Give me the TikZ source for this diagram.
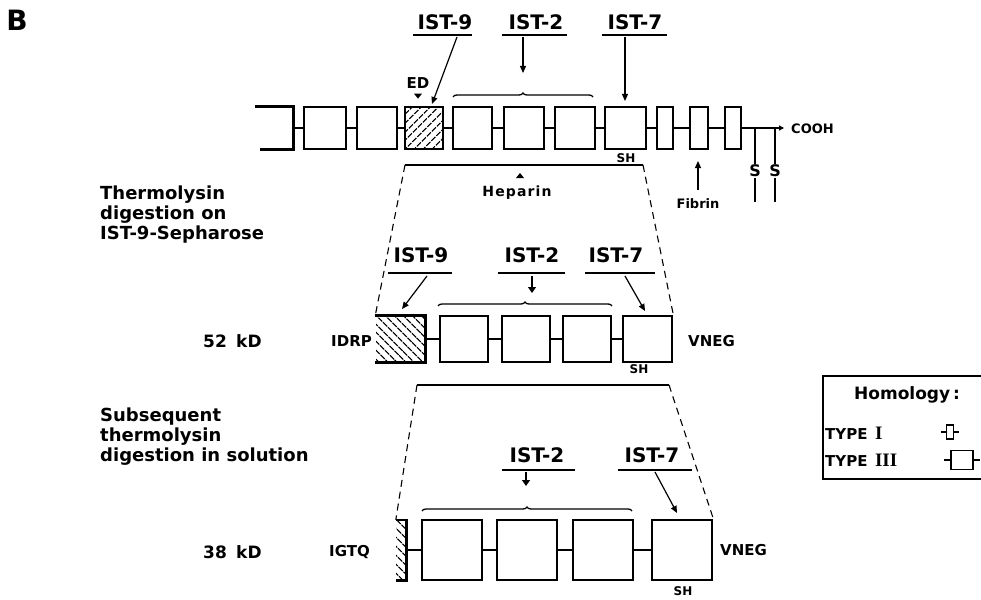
\documentclass[tikz,border=0pt]{standalone}
\usepackage{fontspec}
\setmainfont{DejaVu Sans}
\newfontfamily\romnum{Liberation Serif}
\usetikzlibrary{arrows.meta,patterns.meta,decorations.pathreplacing,calc}
\begin{document}
\begin{tikzpicture}[x=1pt,y=-1pt,
  box/.style={draw, line width=2.6pt, inner sep=0pt},
  nobox/.style={inner sep=0pt},
  link/.style={line width=2.6pt},
  thinline/.style={line width=1.2pt},
  dashline/.style={line width=1.1pt, dash pattern=on 7pt off 5pt},
  arr/.style={line width=1.2pt, -{Triangle[length=7pt,width=6pt]}},
  shortarr/.style={line width=1.2pt, -{Triangle[length=6pt,width=8pt]}},
  brc/.style={line width=1.3pt, decorate, decoration={brace, amplitude=4pt, aspect=0.5}},
  hatchA/.style={pattern={Lines[angle=45,distance=6.5pt,line width=1.3pt]}},
  hatchB/.style={pattern={Lines[angle=-45,distance=6.5pt,line width=1.4pt]}},
  big/.style={font=\fontsize{20}{22}\selectfont\bfseries, inner sep=0pt},
  mid/.style={font=\fontsize{17}{20}\selectfont\bfseries, inner sep=0pt},
  seq/.style={font=\fontsize{15}{17}\selectfont\bfseries, inner sep=0pt},
  sml/.style={font=\fontsize{13}{15}\selectfont\bfseries, inner sep=0pt},
  tiny/.style={font=\fontsize{12}{14}\selectfont\bfseries, inner sep=0pt},
]
\useasboundingbox (0,0) rectangle (981,599);
\fill[white] (0,0) rectangle (981,599);

\node[font=\fontsize{28}{30}\selectfont\bfseries, inner sep=0pt] (B) at (17,20) {B};

% ---------------- top row ----------------
\node[nobox, minimum width=38pt, minimum height=42pt] (t1) at (274,128) {};
\draw[link] (t1.north west) -- (t1.north east) -- (t1.south east) -- ([xshift=5pt]t1.south west);
\node[box, minimum width=42pt, minimum height=42pt] (t2) at (325,128) {};
\node[box, minimum width=40pt, minimum height=42pt] (t3) at (377,128) {};
\node[box, hatchA, minimum width=38pt, minimum height=42pt] (t4) at (424,128) {};
\node[box, minimum width=39pt, minimum height=42pt] (t5) at (472.5,128) {};
\node[box, minimum width=40pt, minimum height=42pt] (t6) at (524,128) {};
\node[box, minimum width=40pt, minimum height=42pt] (t7) at (575,128) {};
\node[box, minimum width=41pt, minimum height=42pt] (t8) at (625.5,128) {};
\node[box, minimum width=16pt, minimum height=42pt] (t9) at (665,128) {};
\node[box, minimum width=18pt, minimum height=42pt] (t10) at (699,128) {};
\node[box, minimum width=16pt, minimum height=42pt] (t11) at (733,128) {};
\foreach \a/\b in {t1/t2,t2/t3,t3/t4,t4/t5,t5/t6,t6/t7,t7/t8,t8/t9,t9/t10,t10/t11}
  \draw[link] (\a.east) -- (\b.west);
\coordinate (cend) at (784,128);
\draw[line width=1.5pt, -{Triangle[length=5pt,width=5pt]}] (t11.east) -- (cend);
\node[sml, anchor=west] (cooh) at (791,129) {COOH};

% disulfides
\coordinate (s1top) at (755,128);
\coordinate (s2top) at (775,128);
\node[font=\fontsize{16}{18}\selectfont\bfseries, inner sep=1pt] (S1) at (755,171) {S};
\node[font=\fontsize{16}{18}\selectfont\bfseries, inner sep=1pt] (S2) at (775,171) {S};
\coordinate (s1bot) at (755,202);
\coordinate (s2bot) at (775,202);
\draw[thinline] (s1top) -- (S1.north);
\draw[thinline] (S1.south) -- (s1bot);
\draw[thinline] (s2top) -- (S2.north);
\draw[thinline] (S2.south) -- (s2bot);

% top labels
\node[big] (L9) at (445,22) {IST-9};
\node[big] (L2) at (536,22) {IST-2};
\node[big] (L7) at (635,22) {IST-7};
\draw[thinline] (413,35) -- (472,35);
\draw[thinline] (502,35) -- (567,35);
\draw[thinline] (602,35) -- (667,35);
\coordinate (a9s) at (457,37); \coordinate (a9e) at (432,104);
\coordinate (a2s) at (523,37); \coordinate (a2e) at (523,73);
\coordinate (a7s) at (625,37); \coordinate (a7e) at (625,101);
\draw[arr] (a9s) -- (a9e);
\draw[arr] (a2s) -- (a2e);
\draw[arr] (a7s) -- (a7e);
\draw[brc] (453,97) -- (593,97);

\node[font=\fontsize{15}{17}\selectfont\bfseries, inner sep=0pt] (ED) at (418,83) {ED};
\fill ($(ED.south)+(-4,5)$) -- ++(8,0) -- ++(-4,5) -- cycle;

\node[tiny] (SHt) at (626,158) {SH};
\coordinate (hl) at (405,165); \coordinate (hr) at (643,165);
\draw[thinline] (hl) -- (hr);

\coordinate (hep) at (520,178);
\fill (hep) -- ++(-4,0) -- ++(4,-5) -- ++(4,5) -- cycle;
\node[font=\fontsize{14}{16}\selectfont\bfseries\addfontfeature{LetterSpace=8}, inner sep=0pt] (Hep) at (517,193) {Heparin};

\coordinate (fs) at (698,190); \coordinate (fe) at (698,161);
\draw[arr] (fs) -- (fe);
\node[sml] (Fib) at (698,204) {Fibrin};

% ---------------- left text ----------------
\node[anchor=north west, align=left, inner sep=0pt, font=\fontsize{18}{20}\selectfont\bfseries] (txt1) at (100,186)
  {Thermolysin\\digestion on\\IST-9-Sepharose};
\node[anchor=north west, align=left, inner sep=0pt, font=\fontsize{18}{20}\selectfont\bfseries] (txt2) at (100,408)
  {Subsequent\\thermolysin\\digestion in solution};

% ---------------- middle row (52 kD) ----------------
\node[nobox, hatchB, minimum width=49pt, minimum height=46pt] (m1) at (400.5,339) {};
\draw[link] (m1.north west) -- (m1.north east) -- (m1.south east) -- (m1.south west);
\node[box, minimum width=48pt, minimum height=46pt] (m2) at (464,339) {};
\node[box, minimum width=48pt, minimum height=46pt] (m3) at (526,339) {};
\node[box, minimum width=48pt, minimum height=46pt] (m4) at (587,339) {};
\node[box, minimum width=49pt, minimum height=46pt] (m5) at (647.5,339) {};
\foreach \a/\b in {m1/m2,m2/m3,m3/m4,m4/m5}
  \draw[link] (\a.east) -- (\b.west);
\node[mid, anchor=west] (kd52) at (203,341) {52\hspace{0.55em}kD};
\node[seq, anchor=east] (idrp) at (372,341) {IDRP};
\node[seq, anchor=west] (vneg1) at (688,341) {VNEG};
\node[tiny] (SHm) at (639,369) {SH};

\draw[dashline] (hl) -- (m1.north west);
\draw[dashline] (hr) -- (m5.north east);

\node[big] (M9) at (421,255) {IST-9};
\node[big] (M2) at (532,255) {IST-2};
\node[big] (M7) at (616,255) {IST-7};
\draw[thinline] (388,273) -- (452,273);
\draw[thinline] (498,273) -- (565,273);
\draw[thinline] (585,273) -- (655,273);
\coordinate (b9s) at (427,276); \coordinate (b9e) at (402,309);
\coordinate (b2s) at (532,276); \coordinate (b2e) at (532,293);
\coordinate (b7s) at (625,276); \coordinate (b7e) at (645,311);
\draw[arr] (b9s) -- (b9e);
\draw[shortarr] (b2s) -- (b2e);
\draw[arr] (b7s) -- (b7e);
\draw[brc] (438,306) -- (612,306);

\coordinate (ml) at (417,385); \coordinate (mr) at (669,385);
\draw[thinline] (ml) -- (mr);

% ---------------- bottom row (38 kD) ----------------
\node[nobox, hatchB, minimum width=10pt, minimum height=60pt] (b0) at (401,550) {};
\draw[link] (b0.north west) -- (b0.north east) -- (b0.south east) -- (b0.south west);
\node[box, minimum width=60pt, minimum height=60pt] (b1) at (452,550) {};
\node[box, minimum width=60pt, minimum height=60pt] (b2) at (527,550) {};
\node[box, minimum width=60pt, minimum height=60pt] (b3) at (603,550) {};
\node[box, minimum width=60pt, minimum height=60pt] (b4) at (682,550) {};
\foreach \a/\b in {b0/b1,b1/b2,b2/b3,b3/b4}
  \draw[link] (\a.east) -- (\b.west);
\node[mid, anchor=west] (kd38) at (203,552) {38\hspace{0.55em}kD};
\node[seq, anchor=east] (igtq) at (370,552) {IGTQ};
\node[seq, anchor=west] (vneg2) at (720,550) {VNEG};
\node[tiny] (SHb) at (683,591) {SH};

\draw[dashline] (ml) -- (b0.north west);
\draw[dashline] (mr) -- (b4.north east);

\node[big] (N2) at (537,455) {IST-2};
\node[big] (N7) at (652,455) {IST-7};
\draw[thinline] (502,470) -- (575,470);
\draw[thinline] (618,470) -- (692,470);
\coordinate (c2s) at (526,472); \coordinate (c2e) at (526,486);
\coordinate (c7s) at (655,472); \coordinate (c7e) at (677,513);
\draw[shortarr] (c2s) -- (c2e);
\draw[arr] (c7s) -- (c7e);
\draw[brc] (422,511) -- (632,511);

% ---------------- legend ----------------
\node[draw, line width=1.5pt, minimum width=170pt, minimum height=103pt, anchor=north west] (leg) at (822,375) {};
\node[mid] (hom) at (907,395) {Homology\,:};
\node[font=\fontsize{15}{17}\selectfont\bfseries, anchor=west, inner sep=0pt] (ty1) at (825,433) {TYPE\hspace{0.5em}{\romnum\fontsize{19}{20}\selectfont\bfseries I}};
\node[font=\fontsize{15}{17}\selectfont\bfseries, anchor=west, inner sep=0pt] (ty3) at (825,460) {TYPE\hspace{0.5em}{\romnum\fontsize{19}{20}\selectfont\bfseries III}};
\node[box, line width=1.8pt, minimum width=7pt, minimum height=14pt] (sym1) at (950,432) {};
\draw[line width=1.8pt] (sym1.west) -- ++(-5,0);
\draw[line width=1.8pt] (sym1.east) -- ++(5,0);
\node[box, line width=1.8pt, minimum width=22pt, minimum height=19pt] (sym3) at (962,460) {};
\draw[line width=1.8pt] (sym3.west) -- ++(-6,0);
\draw[line width=1.8pt] (sym3.east) -- ++(6,0);
\end{tikzpicture}
\end{document}
